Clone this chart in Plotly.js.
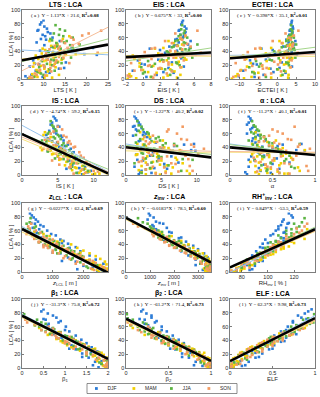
<!DOCTYPE html>
<html>
<head>
<meta charset="utf-8">
<script src="https://cdn.plot.ly/plotly-3.0.1.min.js"></script>
<style>
html, body { margin: 0; padding: 0; background: #fff; }
#chart { width: 320px; height: 397px; }
</style>
</head>
<body>
<div id="chart"></div>
<script>
// ---- samples, per season (LCA is the y value in every panel) ----
var lcaDJF  = [82,76,71,68,64,60,57,53,50,47,44,41,38,36,33,30,27,24,21,18,15,12,9,6,3,1,45,62, 85,79,73,70,66,58,55,49,42,39,35,28,22,16,10,4];
var ltsDJF  = [9.5,10.2,8.8,11.0,9.8,12.1,10.6,8.4,13.2,11.8,16.5,9.2,14.0,19.5,12.6,10.8,7.6,15.2,9.0,6.8,13.6,8.2,11.4,7.2,9.8,6.4,21.5,10.4, 10.0,9.2,10.8,8.6,11.6,9.4,13.8,10.2,17.8,12.2,22.4,11.0,8.0,14.8,10.6,5.8];
var eisDJF  = [4.6,4.9,4.3,5.0,4.4,4.7,3.8,4.2,5.3,3.1,0.8,4.0,2.6,5.8,1.2,4.5,-0.6,3.4,0.2,4.8,2.1,-1.2,3.6,1.6,0.4,4.1,5.5,4.8, 4.7,4.5,5.1,4.2,4.9,4.0,5.6,3.7,2.0,4.6,6.2,1.8,-0.2,3.0,2.4,-1.6];
var ectDJF  = [3.8,4.1,3.4,4.0,3.2,3.6,2.4,3.0,4.4,1.6,-4.2,2.8,-0.6,4.6,-2.4,3.3,-7.2,1.2,-5.4,3.9,-1.8,-9.0,2.2,-3.6,-6.0,3.0,4.3,3.7, 3.9,3.6,4.2,3.3,4.0,3.1,4.8,2.7,-1.2,3.8,5.2,-3.0,-6.4,0.6,-1.0,-10.2];
var isDJF   = [4.6,4.2,5.0,4.4,3.8,4.8,5.4,3.6,5.8,4.9,6.4,5.2,6.8,4.0,7.2,6.0,5.0,7.6,6.6,8.2,7.0,8.8,6.2,9.6,7.8,8.4,3.2,4.5, 4.4,4.8,4.0,5.2,4.6,3.4,5.6,4.2,6.0,5.4,3.6,6.2,7.4,6.8,8.0,9.2];
var dsDJF   = [1.4,1.8,1.2,2.2,1.6,2.8,1.0,3.4,2.0,4.2,8.2,2.6,5.0,9.2,3.8,1.5,6.4,4.6,2.4,7.4,3.0,1.2,5.8,2.2,3.6,1.8,9.6,2.5, 1.2,1.6,2.0,1.0,1.4,2.4,3.0,1.8,6.8,2.2,9.8,3.4,1.6,5.4,4.0,2.0];
var alpDJF  = [0.24,0.22,0.28,0.26,0.31,0.20,0.35,0.27,0.42,0.30,0.62,0.38,0.50,0.78,0.33,0.45,0.25,0.55,0.29,0.70,0.40,0.22,0.58,0.36,0.48,0.20,0.84,0.30, 0.22,0.25,0.20,0.28,0.24,0.33,0.30,0.26,0.56,0.36,0.88,0.40,0.22,0.50,0.34,0.18];
var zlclDJF = [320,450,300,600,350,820,480,1100,620,1250,760,1500,900,1750,1100,1900,1250,2200,1500,2400,1750,2650,2000,2300,2700,2450,1350,560, 260,380,520,420,700,400,950,500,1300,700,1550,1000,1900,1300,2300,1800];
var zinvDJF = [1000,900,1400,1100,1700,1300,1900,1500,2300,1700,2500,1900,2800,2100,3000,2300,3250,2600,3400,2900,3500,3100,3350,3450,3200,3500,1600,1250, 950,1150,1250,1550,1150,1800,1400,2200,1900,2600,2100,2700,3100,3300,2900,3450];
var rhDJF   = [118,112,116,110,114,106,112,102,110,98,108,96,105,94,102,91,99,88,96,85,93,82,90,80,86,76,112,108, 116,119,111,115,108,113,104,112,100,107,96,101,92,96,84,88];
var b1DJF   = [0.45,0.72,0.5,0.9,0.62,1.02,0.7,1.1,0.82,1.25,0.92,1.38,1.0,1.5,1.15,1.62,1.25,1.75,1.4,1.88,1.55,1.95,1.7,1.85,1.98,1.78,0.95,0.6, 0.5,0.6,0.8,0.55,0.85,0.6,1.0,0.75,1.2,0.95,1.35,1.1,1.6,1.4,1.85,1.65];
var b2DJF   = [0.18,0.3,0.16,0.36,0.22,0.42,0.26,0.48,0.32,0.55,0.38,0.62,0.44,0.68,0.5,0.74,0.58,0.8,0.66,0.86,0.74,0.92,0.82,0.97,0.9,0.99,0.36,0.26, 0.2,0.24,0.3,0.22,0.34,0.28,0.42,0.34,0.52,0.42,0.6,0.52,0.76,0.66,0.88,0.8];
var elfDJF  = [0.92,0.8,0.9,0.74,0.86,0.68,0.8,0.6,0.72,0.52,0.66,0.46,0.6,0.4,0.52,0.34,0.46,0.26,0.38,0.2,0.3,0.14,0.22,0.08,0.14,0.04,0.6,0.78, 0.96,0.88,0.84,0.92,0.74,0.84,0.66,0.78,0.5,0.64,0.44,0.5,0.3,0.34,0.12,0.18];

var lcaMAM  = [58,52,48,45,42,40,37,35,33,31,29,27,25,23,21,19,17,15,13,11,9,7,5,3,2,1,36,28, 62,55,50,44,39,34,30,26,22,18,14,10,6,4,2,0.5];
var ltsMAM  = [14.5,13.0,11.8,12.6,10.4,13.8,9.6,15.2,11.2,12.4,8.8,10.6,13.4,7.8,11.6,9.4,12.8,10.2,8.4,11.0,9.2,7.4,10.8,8.6,12.0,7.0,17.5,14.2, 16.0,11.4,13.2,9.8,12.2,8.2,14.6,10.0,12.6,7.6,11.2,9.0,13.6,8.0,10.2,6.6];
var eisMAM  = [4.4,3.6,4.1,2.4,4.6,3.2,1.8,4.8,0.6,3.9,-1.0,2.8,4.2,-0.4,3.4,1.2,4.5,2.2,0.0,3.7,1.6,-1.6,2.9,0.9,4.0,-0.8,6.2,5.1, 5.0,3.0,4.6,1.4,3.8,-1.2,4.9,2.0,4.1,-0.4,3.2,0.6,4.4,-1.4,2.4,-1.8];
var ectMAM  = [2.8,1.4,3.2,-1.6,3.6,0.4,-3.0,3.8,-6.0,2.6,-8.2,0.8,3.0,-7.0,1.8,-4.0,3.4,-2.2,-9.6,2.2,-5.0,-10.5,1.0,-6.8,2.9,-8.8,4.6,3.5, 3.8,0.6,3.4,-4.4,2.0,-9.0,4.0,-2.8,2.4,-8.0,0.2,-6.2,3.0,-11.0,-1.6,-12.0];
var isMAM   = [3.0,3.6,4.2,3.4,4.8,2.6,5.2,4.0,5.6,4.4,6.0,5.0,6.6,5.4,7.2,6.2,7.8,6.8,8.4,7.4,8.8,7.0,9.4,8.0,10.2,8.6,2.8,6.4, 3.2,4.0,3.8,5.0,4.6,5.8,4.2,6.4,5.2,7.0,6.0,7.6,8.2,9.0,10.8,9.8];
var dsMAM   = [3.2,2.4,4.0,1.6,2.8,5.4,3.6,2.0,6.2,4.4,1.4,3.0,7.0,2.6,5.0,3.8,8.0,4.8,2.2,6.6,3.4,1.8,5.6,4.2,9.0,2.8,7.6,4.6, 2.0,3.4,5.2,2.4,6.0,3.0,1.6,4.4,7.2,2.8,5.8,3.6,8.6,2.2,6.4,4.8];
var alpMAM  = [0.36,0.30,0.44,0.26,0.50,0.34,0.58,0.40,0.28,0.66,0.46,0.32,0.72,0.38,0.52,0.24,0.60,0.42,0.30,0.80,0.48,0.36,0.56,0.44,0.68,0.34,0.88,0.62, 0.30,0.40,0.54,0.32,0.62,0.38,0.26,0.46,0.74,0.34,0.58,0.42,0.82,0.30,0.64,0.50];
var zlclMAM = [400,900,700,1300,1000,1600,1200,1800,1350,2000,1500,2200,1700,2400,1900,2550,2100,2700,2300,2750,2500,2650,2780,2450,2600,2750,1100,1900, 250,700,550,1150,850,1500,1250,1700,1950,2200,2350,2550,2650,2300,2780,2500];
var zinvMAM = [1400,1900,1800,2300,2100,2600,2300,2800,2500,3000,2700,3200,2850,3350,3000,3450,3200,3500,3350,3300,3500,3400,3250,3480,3520,3380,2100,2900, 1100,1500,1700,2000,2400,2450,2750,3050,2900,3300,3150,3450,3350,3500,3300,3420];
var rhMAM   = [132,124,128,114,120,108,116,104,110,100,106,96,102,92,98,88,94,84,90,80,86,78,82,76,79,73,112,100, 130,126,118,118,106,112,98,104,90,95,82,88,76,80,72,75];
var b1MAM   = [0.4,0.85,0.6,1.05,0.8,1.25,0.95,1.4,1.05,1.55,1.2,1.65,1.35,1.78,1.5,1.9,1.65,1.98,1.8,1.92,1.99,1.85,1.96,1.9,1.99,1.94,1.0,1.7, 0.3,0.7,0.65,1.15,0.9,1.45,1.15,1.6,1.85,1.7,1.95,1.75,1.99,1.88,1.97,1.99];
var b2MAM   = [0.08,0.38,0.22,0.48,0.36,0.58,0.44,0.66,0.5,0.74,0.58,0.8,0.64,0.86,0.72,0.9,0.8,0.96,0.86,0.99,0.92,0.97,0.99,0.94,0.98,0.96,0.46,0.78, 0.05,0.3,0.28,0.5,0.44,0.68,0.6,0.76,0.92,0.84,0.98,0.9,0.99,0.95,0.99,0.97];
var elfMAM  = [0.88,0.64,0.72,0.5,0.62,0.44,0.5,0.34,0.44,0.26,0.36,0.2,0.3,0.14,0.26,0.1,0.2,0.06,0.14,0.04,0.1,0.02,0.06,0.02,0.04,0.01,0.52,0.38, 0.9,0.76,0.58,0.62,0.4,0.48,0.24,0.3,0.12,0.18,0.04,0.08,0.02,0.03,0.01,0.02];

var lcaJJA  = [72,66,62,58,55,52,49,46,44,42,40,38,36,34,32,30,28,26,24,22,20,17,14,10,6,3,50,45, 78,70,64,60,56,53,47,43,39,35,31,27,23,18,12,8];
var ltsJJA  = [13.8,12.4,14.6,11.6,15.4,13.0,16.2,12.2,14.0,17.0,11.0,13.4,15.0,10.4,12.8,14.4,11.8,9.6,13.2,10.8,12.0,9.0,11.4,8.6,10.0,7.8,18.4,16.8, 12.8,15.0,13.6,16.8,12.0,14.8,13.2,15.8,11.2,13.8,16.4,12.4,14.2,10.2,12.6,9.4];
var eisJJA  = [4.5,4.8,4.2,4.6,3.8,5.0,4.0,3.4,4.4,5.4,2.8,4.1,3.6,1.8,4.7,3.0,2.2,0.6,3.9,1.4,4.3,-0.2,2.6,0.2,3.2,1.0,6.4,5.6, 4.6,4.9,4.4,5.2,4.1,4.8,3.6,5.0,3.0,4.3,5.8,2.4,4.0,1.0,3.4,0.0];
var ectJJA  = [3.6,3.9,3.0,3.4,2.4,4.2,2.6,1.2,3.2,4.6,-0.8,2.8,1.8,-3.4,3.5,0.4,-2.0,-5.6,2.4,-4.4,3.1,-7.4,0.0,-6.6,1.4,-3.0,5.0,4.4, 3.7,4.0,3.5,4.4,3.1,3.9,2.2,4.1,0.8,3.3,4.8,-1.4,2.9,-4.8,1.8,-6.0];
var isJJA   = [4.2,4.6,3.8,5.0,4.4,5.4,3.4,5.8,4.8,6.2,4.0,5.6,6.6,3.6,7.0,5.2,6.0,7.4,4.6,8.0,6.4,7.2,8.6,6.8,9.2,7.6,2.8,5.0, 4.0,4.4,4.8,3.6,5.2,4.6,5.0,5.6,4.2,6.0,5.4,6.8,5.8,7.8,7.0,8.6];
var dsJJA   = [1.8,2.4,3.0,1.4,4.6,2.0,3.6,5.6,2.6,7.2,1.6,4.0,3.2,6.4,2.2,8.4,3.8,5.0,2.8,9.4,4.4,1.2,6.0,3.4,7.8,2.2,4.8,6.8, 1.6,2.2,1.8,3.2,2.6,4.2,1.4,5.2,3.0,6.6,2.4,4.6,8.0,3.6,5.4,2.8];
var alpJJA  = [0.28,0.32,0.25,0.36,0.30,0.42,0.34,0.50,0.27,0.46,0.38,0.56,0.31,0.62,0.44,0.35,0.70,0.40,0.52,0.29,0.64,0.48,0.37,0.76,0.43,0.58,0.22,0.82, 0.26,0.30,0.34,0.28,0.40,0.36,0.46,0.32,0.54,0.42,0.60,0.38,0.66,0.48,0.72,0.44];
var zlclJJA = [250,450,200,650,300,800,450,1000,600,1200,750,1350,900,1500,1100,1700,1250,1850,1450,2000,1650,2200,1900,2450,2150,2650,450,1050, 280,150,400,250,550,350,900,550,1200,850,1600,1150,1950,1600,2400,2100];
var zinvJJA = [700,1000,1150,1500,1250,1800,1450,2000,1700,2300,1900,2450,2100,2650,2300,2850,2500,3050,2700,3250,2950,3400,3150,3500,3300,3450,1350,2200, 500,900,1050,1350,1200,1550,1500,2100,1950,2400,2300,2900,2700,3200,3100,3450];
var rhJJA   = [126,124,118,122,114,118,110,116,106,112,104,110,100,106,98,104,94,100,92,96,88,92,84,86,80,76,116,106, 128,120,122,114,118,108,114,102,108,98,102,92,96,84,90,80];
var b1JJA   = [0.1,0.45,0.3,0.72,0.45,0.9,0.65,1.05,0.8,1.2,0.95,1.3,1.08,1.42,1.2,1.55,1.35,1.68,1.5,1.8,1.6,1.9,1.75,1.98,1.85,1.99,0.7,1.15, 0.05,0.35,0.55,0.4,0.75,0.55,1.0,0.85,1.25,1.05,1.45,1.3,1.7,1.5,1.95,1.8];
var b2JJA   = [0.02,0.2,0.06,0.32,0.16,0.4,0.26,0.48,0.36,0.56,0.42,0.6,0.5,0.68,0.56,0.74,0.64,0.8,0.72,0.86,0.78,0.92,0.86,0.98,0.92,0.99,0.28,0.5, 0.01,0.08,0.24,0.14,0.3,0.22,0.44,0.34,0.58,0.46,0.7,0.6,0.82,0.74,0.96,0.88];
var elfJJA  = [0.92,0.98,0.78,0.84,0.7,0.76,0.62,0.66,0.6,0.58,0.52,0.5,0.48,0.4,0.42,0.3,0.38,0.22,0.32,0.16,0.26,0.1,0.18,0.04,0.1,0.02,0.74,0.48, 0.99,0.86,0.94,0.72,0.8,0.64,0.7,0.46,0.56,0.36,0.44,0.22,0.34,0.1,0.2,0.05];

var lcaSON  = [66,60,55,51,48,45,43,41,39,37,35,33,31,29,27,25,23,21,19,17,15,13,11,8,5,2,38,47, 70,63,57,52,49,44,40,36,32,28,24,20,16,12,6,3];
var ltsSON  = [20.5,16.4,14.2,18.2,12.6,15.6,11.4,17.4,13.6,10.6,15.0,12.2,14.6,9.8,13.0,11.6,16.0,8.8,12.4,10.2,14.0,9.2,11.8,8.0,10.4,7.4,22.6,13.8, 23.4,19.0,17.0,15.0,16.8,13.4,14.8,12.0,13.6,11.0,12.8,10.0,11.6,9.0,8.4,6.8];
var eisSON  = [3.8,4.4,2.6,5.2,4.0,1.4,4.6,3.2,0.2,4.2,2.0,-0.8,3.6,1.0,4.8,2.4,-1.4,3.0,0.6,4.4,1.8,-0.2,3.4,2.8,-1.8,1.2,6.8,5.6, 6.4,5.0,4.6,3.4,4.8,1.0,3.8,2.2,4.4,-0.4,3.0,0.8,2.0,-1.0,1.4,-1.6];
var ectSON  = [2.2,3.2,-1.2,4.2,2.8,-4.6,3.4,0.6,-7.8,3.0,-2.6,-9.4,1.6,-5.8,3.8,-0.8,-11.0,0.2,-6.6,3.6,-3.8,-8.4,1.0,-1.6,-10.2,-4.8,5.4,4.0, 5.6,4.4,3.6,1.2,4.0,-5.8,2.4,-2.0,3.2,-8.6,0.8,-4.0,-2.8,-9.8,-3.2,-11.6];
var isSON   = [5.6,4.0,6.2,3.2,5.0,6.8,4.4,7.4,5.4,3.6,6.0,8.0,4.8,7.0,5.8,8.6,6.4,4.2,9.0,7.6,5.2,9.8,6.6,8.4,10.6,7.2,3.0,6.4, 5.0,4.4,5.8,3.8,6.6,4.8,7.2,5.6,6.0,8.2,5.2,7.0,9.4,6.8,10.0,8.8];
var dsSON   = [6.0,7.2,2.6,8.6,4.4,3.2,6.8,9.6,5.2,2.0,7.8,4.0,10.2,3.6,5.8,2.4,8.8,4.6,1.8,6.4,3.0,9.0,5.4,2.8,7.4,4.2,11.0,3.4, 8.0,5.8,3.8,7.8,2.8,9.2,4.8,6.2,3.2,8.4,5.0,2.2,7.0,3.8,9.4,5.6];
var alpSON  = [0.50,0.62,0.40,0.72,0.34,0.58,0.46,0.80,0.30,0.54,0.66,0.38,0.86,0.44,0.60,0.28,0.74,0.50,0.36,0.64,0.42,0.90,0.48,0.56,0.32,0.70,0.94,0.52, 0.76,0.56,0.46,0.68,0.40,0.82,0.50,0.60,0.36,0.78,0.52,0.30,0.70,0.44,0.92,0.58];
var zlclSON = [200,450,150,700,400,900,550,1100,700,1300,850,1450,1000,1650,1200,1800,1400,2000,1550,2200,1800,2400,2000,2600,2250,2750,800,1000, 300,250,600,350,800,550,1150,700,1500,1000,1900,1350,2300,1750,2700,2350];
var zinvSON = [500,1200,1100,1700,1400,2000,1600,2200,1800,2450,2000,2600,2250,2800,2500,3000,2700,3200,2900,3350,3100,3450,3300,3500,3350,3480,1800,1450, 300,800,1300,1150,1700,1650,2200,2050,2600,2450,3000,2850,3350,3150,3480,3400];
var rhSON   = [128,126,120,120,114,116,110,112,104,110,102,106,98,102,94,98,90,94,86,90,84,86,80,82,76,72,104,116, 130,122,124,114,118,108,112,102,106,96,100,90,92,84,86,76];
var b1SON   = [0.12,0.62,0.45,0.9,0.7,1.1,0.85,1.2,1.0,1.35,1.1,1.45,1.25,1.55,1.4,1.68,1.5,1.8,1.65,1.9,1.78,1.96,1.9,1.99,1.96,1.99,1.05,0.78, 0.08,0.3,0.72,0.55,0.9,0.8,1.2,1.0,1.45,1.2,1.7,1.5,1.88,1.72,1.99,1.92];
var b2SON   = [0.02,0.26,0.14,0.4,0.3,0.48,0.36,0.56,0.44,0.62,0.5,0.68,0.58,0.74,0.64,0.8,0.72,0.86,0.78,0.92,0.86,0.96,0.92,0.99,0.95,0.99,0.44,0.32, 0.01,0.06,0.28,0.18,0.34,0.3,0.5,0.42,0.64,0.56,0.78,0.7,0.9,0.84,0.98,0.94];
var elfSON  = [0.96,0.78,0.82,0.62,0.7,0.52,0.62,0.44,0.56,0.38,0.5,0.32,0.44,0.26,0.38,0.2,0.32,0.14,0.26,0.1,0.2,0.06,0.14,0.02,0.08,0.01,0.52,0.7, 0.99,0.84,0.86,0.66,0.74,0.5,0.62,0.36,0.5,0.22,0.38,0.12,0.24,0.04,0.12,0.02];

// ---- regression coefficients, one per panel (a..l) ----
var slopeAll = [1.13, 0.675, 0.398, -4.74, -1.22, -11.2, -0.0227, -0.0183, 0.849, -31.3, -61.2, 62.3];
var icptAll  = [21.6, 33, 35.1, 59.2, 40.2, 40.1, 62.4, 78.5, -53.5, 75.8, 71.4, 9.98];
var r2All    = ['0.08','0.00','0.01','0.15','0.02','0.01','0.69','0.60','0.59','0.72','0.73','0.73'];

var slopeDJF = [-0.35, 0.4, 0.1, -5.6, -1.7, -17, -0.025, -0.019, 0.98, -32, -63, 68];
var icptDJF  = [43.8, 32.8, 35.5, 72, 45, 45, 66, 80, -70, 78, 73, 8];
var slopeMAM = [0.45, -0.1, 0, -4.3, -0.25, -1, -0.0205, -0.018, 0.8, -30, -58, 56];
var icptMAM  = [27, 33.8, 33, 52, 35, 33, 58, 76, -50, 73, 68, 12];
var slopeJJA = [1.65, 1.9, 0.71, -4.3, -1.1, -15, -0.0235, -0.0185, 0.92, -32, -62, 64];
var icptJJA  = [16.8, 29.8, 38.9, 60, 43, 44, 64, 79, -60, 77, 72, 9];
var slopeSON = [3.15, 0.5, 0.3, -4.2, -0.3, -1, -0.022, -0.0185, 0.82, -31, -60, 60];
var icptSON  = [-3.8, 31, 33, 55, 38, 34, 61, 78, -52, 75, 70, 10];

var seasons = ['DJF', 'MAM', 'JJA', 'SON'];
var letters = ['a','b','c','d','e','f','g','h','i','j','k','l'];
var titles = ['LTS : LCA', 'EIS : LCA', 'ECTEI : LCA', 'IS : LCA', 'DS : LCA', '\u03b1 : LCA',
  '<i>z</i><sub>LCL</sub> : LCA', '<i>z</i><sub>inv</sub> : LCA', 'RH<sup>+</sup><sub>inv</sub> : LCA',
  '\u03b2<sub>1</sub> : LCA', '\u03b2<sub>2</sub> : LCA', 'ELF : LCA'];
var xlabels = ['LTS [ K ]', 'EIS [ K ]', 'ECTEI [ K ]', 'IS [ K ]', 'DS [ K ]', '\u03b1',
  '<i>z</i><sub>LCL</sub> [ m ]', '<i>z</i><sub>inv</sub> [ m ]', 'RH<sub>inv</sub> [ % ]',
  '\u03b2<sub>1</sub>', '\u03b2<sub>2</sub>', 'ELF'];

// tables built from the arrays above
var lcaBy = {DJF: lcaDJF, MAM: lcaMAM, JJA: lcaJJA, SON: lcaSON};
var xBy = {
  DJF: [ltsDJF, eisDJF, ectDJF, isDJF, dsDJF, alpDJF, zlclDJF, zinvDJF, rhDJF, b1DJF, b2DJF, elfDJF],
  MAM: [ltsMAM, eisMAM, ectMAM, isMAM, dsMAM, alpMAM, zlclMAM, zinvMAM, rhMAM, b1MAM, b2MAM, elfMAM],
  JJA: [ltsJJA, eisJJA, ectJJA, isJJA, dsJJA, alpJJA, zlclJJA, zinvJJA, rhJJA, b1JJA, b2JJA, elfJJA],
  SON: [ltsSON, eisSON, ectSON, isSON, dsSON, alpSON, zlclSON, zinvSON, rhSON, b1SON, b2SON, elfSON]
};
var fitBy = {
  DJF: [slopeDJF, icptDJF], MAM: [slopeMAM, icptMAM],
  JJA: [slopeJJA, icptJJA], SON: [slopeSON, icptSON]
};

// styles
var dotColors = {DJF: '#2b7bd6', MAM: '#f2cf00', JJA: '#5cb443', SON: '#f39b62'};
var fitColors = {DJF: '#95c3ee', MAM: '#f6e27c', JJA: '#a4d68b', SON: '#f6bd98'};
var xRanges = [[5,25], [-2,8], [-12.5,10], [0,12], [0,12], [0,1],
  [0,2800], [0,3540], [71,136], [0,2], [0,1], [0,1]];
var xDticks = [5, 2, 5, 5, 5, 0.5, 1000, 1000, 20, 0.5, 0.5, 0.5];

var colDom = [[22,108], [126,211], [230,315]];
var rowDom = [[10,79], [106,175], [203,272], [299,368]];
var W = 320, H = 397;

var traces = [];
var annotations = [];
var layout = {
  width: W, height: H,
  margin: {l: 0, r: 0, t: 0, b: 0, autoexpand: false},
  paper_bgcolor: '#fff', plot_bgcolor: '#fff',
  font: {family: 'Liberation Sans, Arial, sans-serif', size: 6, color: '#262626'},
  showlegend: false,
  shapes: [{
    type: 'rect', xref: 'paper', yref: 'paper',
    x0: 87 / W, x1: 237 / W, y0: 1 - 393.5 / H, y1: 1 - 383.5 / H,
    line: {color: '#444', width: 0.6}, fillcolor: '#fff', layer: 'below'
  }]
};

for (var p = 0; p < 12; p++) {
  var sfx = p === 0 ? '' : String(p + 1);
  var xa = 'x' + sfx, ya = 'y' + sfx;
  var col = p % 3, row = Math.floor(p / 3);
  var xd = [colDom[col][0] / W, colDom[col][1] / W];
  var yd = [1 - rowDom[row][1] / H, 1 - rowDom[row][0] / H];
  var r = xRanges[p];

  layout['xaxis' + sfx] = {
    domain: xd, anchor: ya, range: r, dtick: xDticks[p],
    showline: true, mirror: true, linecolor: '#262626', linewidth: 0.6,
    ticks: 'inside', ticklen: 2, tickwidth: 0.6, tickcolor: '#262626',
    showgrid: false, zeroline: false, tickfont: {size: 5.5},
    title: {text: xlabels[p], font: {size: 6}, standoff: 1}
  };
  layout['yaxis' + sfx] = {
    domain: yd, anchor: xa, range: [0, 100], dtick: 20,
    showline: true, mirror: true, linecolor: '#262626', linewidth: 0.6,
    ticks: 'inside', ticklen: 2, tickwidth: 0.6, tickcolor: '#262626',
    showgrid: false, zeroline: false, tickfont: {size: 5.5}
  };
  if (col === 0) {
    annotations.push({
      xref: 'paper', yref: 'paper', x: 10 / W, y: (yd[0] + yd[1]) / 2,
      xanchor: 'center', yanchor: 'middle', textangle: -90, showarrow: false,
      text: 'LCA [ % ]', font: {size: 6, color: '#262626'}
    });
  }

  seasons.forEach(function (s) {
    traces.push({
      type: 'scatter', mode: 'markers', x: xBy[s][p], y: lcaBy[s],
      xaxis: xa, yaxis: ya, name: s,
      marker: {symbol: 'square', size: 2.6, color: dotColors[s], line: {width: 0}},
      hoverinfo: 'skip'
    });
  });
  seasons.forEach(function (s) {
    var m = fitBy[s][0][p], b = fitBy[s][1][p];
    traces.push({
      type: 'scatter', mode: 'lines', x: r, y: [b + m * r[0], b + m * r[1]],
      xaxis: xa, yaxis: ya, hoverinfo: 'skip',
      line: {color: fitColors[s], width: 1}
    });
  });
  traces.push({
    type: 'scatter', mode: 'lines', x: r,
    y: [icptAll[p] + slopeAll[p] * r[0], icptAll[p] + slopeAll[p] * r[1]],
    xaxis: xa, yaxis: ya, hoverinfo: 'skip',
    line: {color: '#000', width: 2.6}
  });

  annotations.push({
    xref: 'paper', yref: 'paper', x: (xd[0] + xd[1]) / 2, y: yd[1],
    xanchor: 'center', yanchor: 'bottom', showarrow: false,
    text: '<b>' + titles[p] + '</b>', font: {size: 7, color: '#000'}
  });
  annotations.push({
    xref: xa + ' domain', yref: ya + ' domain', x: 0.5, y: 0.92,
    xanchor: 'center', yanchor: 'middle', showarrow: false, bgcolor: '#fff',
    borderpad: 0,
    text: '( ' + letters[p] + ' )&nbsp;&nbsp;Y = ' + slopeAll[p] + '*X + ' + icptAll[p] +
      ', <b>R<sup>2</sup>=' + r2All[p] + '</b>',
    font: {family: 'Liberation Serif, DejaVu Serif, serif', size: 5, color: '#000'}
  });
}

// legend key: one category per season on a hidden strip axis
layout.xaxis13 = {
  domain: [87 / W, 237 / W], anchor: 'y13', type: 'category',
  range: [-0.25, 3.75], visible: false, fixedrange: true
};
layout.yaxis13 = {
  domain: [1 - 393.5 / H, 1 - 383.5 / H], anchor: 'x13',
  range: [-1, 1], visible: false, fixedrange: true
};
traces.push({
  type: 'scatter', mode: 'markers+text', x: seasons, y: seasons.map(function () { return 0; }),
  xaxis: 'x13', yaxis: 'y13', hoverinfo: 'skip', cliponaxis: false,
  text: seasons.map(function (s) { return '&nbsp;&nbsp;&nbsp;&nbsp;&nbsp;&nbsp;' + s; }),
  textposition: 'middle right', textfont: {size: 5, color: '#262626'},
  marker: {symbol: 'square', size: 2.8, color: seasons.map(function (s) { return dotColors[s]; })}
});

layout.annotations = annotations;

Plotly.newPlot('chart', traces, layout, {displayModeBar: false, staticPlot: true});
</script>
</body>
</html>
